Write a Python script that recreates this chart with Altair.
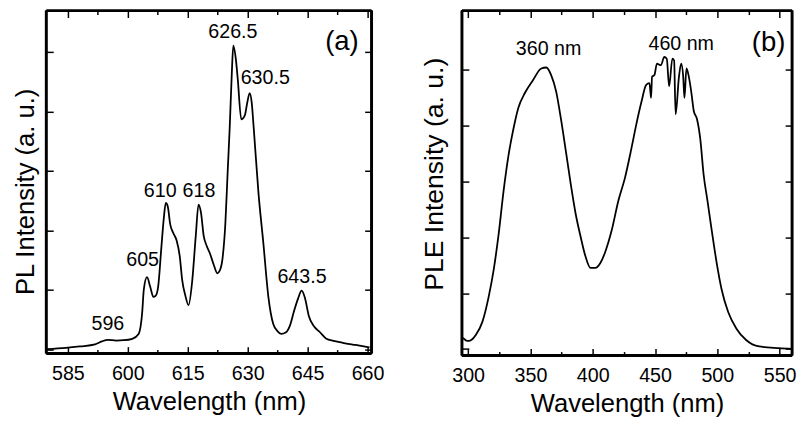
import altair as alt
import pandas as pd

FONT = "Liberation Sans"

pl_wavelength = [579.7, 584.5, 588.0, 591.8, 593.5, 595.0, 597.1, 599.0, 601.1, 602.7,
                 603.6, 604.0, 604.8, 605.6, 606.4, 607.0, 607.6, 608.4, 609.0, 609.5,
                 610.0, 610.6, 611.4, 612.2, 613.0, 613.6, 614.4, 615.2, 616.1, 617.0,
                 617.7, 618.3, 619.0, 619.7, 620.6, 621.5, 622.4, 623.0, 623.7, 624.4,
                 625.0, 625.5, 626.0, 626.4, 627.0, 627.5, 628.4, 629.3, 629.9, 630.5,
                 631.0, 631.5, 632.7, 633.9, 635.2, 636.4, 637.5, 638.4, 639.6, 640.6,
                 641.6, 642.6, 643.5, 644.3, 645.3, 646.5, 648.1, 649.7, 651.5, 653.8,
                 657.0, 660.5]
pl_intensity = [0, 20, 45, 79, 130, 157, 145, 150, 174, 256,
                620, 1000, 1210, 1050, 879, 900, 1055, 1716, 2200, 2460,
                2400, 2103, 1950, 1830, 1560, 1165, 900, 740, 1137, 1900,
                2433, 2300, 1900, 1744, 1600, 1420, 1276, 1320, 1524, 2100,
                3000, 3728, 4600, 5105, 4900, 4554, 3865, 3937, 4150, 4306,
                4150, 3728, 2625, 1798, 868, 422, 300, 256, 284, 400,
                641, 850, 985, 870, 559, 393, 284, 174, 140, 107,
                70, 30]
pl_peak_text = ["596", "605", "610", "618", "626.5", "630.5", "643.5"]
pl_peak_x = [595.0, 603.7, 608.1, 617.8, 626.3, 634.4, 643.6]
pl_peak_y = [421, 1496, 2653, 2653, 5331, 4554, 1215]
pl_tag = ["(a)"]
pl_tag_x = [653.6]
pl_tag_y = [5166]

pl_x_major = [585, 600, 615, 630, 645, 660]
pl_x_minor = [592.5, 607.5, 622.5, 637.5, 652.5]

ple_wavelength = [295.5, 296.8, 298.5, 300.8, 303.5, 306.1, 311.4, 316.6, 320.5, 324.5,
                  328.4, 332.4, 336.3, 340.3, 345.5, 352.1, 358.7, 362.7, 366.6, 370.6,
                  374.5, 378.5, 382.4, 386.3, 390.3, 394.2, 398.2, 402.1, 406.1, 410.0,
                  415.2, 420.5, 425.8, 431.0, 435.0, 438.9, 442.9, 445.5, 446.8, 447.6,
                  449.5, 451.5, 454.7, 457.4, 459.4, 461.3, 463.9, 465.3, 466.5, 469.2,
                  471.0, 472.6, 473.6, 475.2, 477.1, 479.2, 481.1, 483.7, 486.3, 489.0,
                  492.1, 495.5, 499.5, 503.4, 508.7, 515.2, 523.1, 533.6, 549.4, 560.0]
ple_intensity = [200, 181, 150, 146, 180, 251, 487, 954, 1424, 2068,
                 2830, 3475, 3942, 4323, 4587, 4821, 5027, 5044, 4909, 4617,
                 4118, 3532, 2947, 2420, 2009, 1657, 1453, 1453, 1541, 1740,
                 2127, 2654, 3063, 3591, 4030, 4411, 4733, 4763, 4499, 4880,
                 4909, 5114, 5085, 5232, 5202, 4705, 5202, 5173, 4206, 4880,
                 5114, 4880, 4499, 5027, 4880, 4587, 4265, 4118, 3766, 3123,
                 2654, 2127, 1541, 1072, 663, 369, 163, 47, 18, 5]
ple_peak_text = ["360 nm", "460 nm"]
ple_peak_x = [364.5, 471.0]
ple_peak_y = [5378, 5466]
ple_tag = ["(b)"]
ple_tag_x = [541.1]
ple_tag_y = [5483]

ple_x_major = [300, 350, 400, 450, 500, 550]
ple_x_minor = [325, 375, 425, 475, 525]

y_ticks = [0, 1000, 2000, 3000, 4000, 5000]

pl_x_range = [579.6, 661.0]
pl_y_range = [-74, 5695]
ple_x_range = [295.0, 560.0]
ple_y_range = [-115, 6063]


def axis(orient, values, size, labels=False, title=None, **kw):
    return alt.Axis(orient=orient, values=values, tickSize=size, offset=-size,
                    domain=False, grid=False, labels=labels, title=title,
                    labelFlush=False, labelOverlap=False,
                    minExtent=0, maxExtent=400, **kw)


def panel(wl, inten, ptxt, px, py, tag, tx, ty, xdom, ydom, xmaj, xmin,
          ytitle, w, h, ytp, ytitle_y, ytfs):
    df = pd.DataFrame({"wl": wl, "val": inten})
    lab = pd.DataFrame({"t": ptxt, "x": px, "y": py})
    tg = pd.DataFrame({"t": tag, "x": tx, "y": ty})
    edges = pd.DataFrame({"x1": [xdom[0], xdom[0], xdom[0], xdom[1]],
                          "x2": [xdom[1], xdom[1], xdom[0], xdom[1]],
                          "y1": [ydom[0], ydom[1], ydom[0], ydom[0]],
                          "y2": [ydom[0], ydom[1], ydom[1], ydom[1]]})
    xs = alt.Scale(domain=xdom, nice=False, zero=False)
    ys = alt.Scale(domain=ydom, nice=False, zero=False)
    base = alt.Chart(df)
    main = base.mark_line(color="black", strokeWidth=1.8, interpolate="monotone").encode(
        x=alt.X("wl:Q", scale=xs,
                axis=axis("bottom", xmaj, 7, labels=True, title="Wavelength (nm)",
                          labelPadding=10, titlePadding=6)),
        y=alt.Y("val:Q", scale=ys,
                axis=axis("left", y_ticks, 7, title=ytitle, titlePadding=ytp,
                          titleY=ytitle_y, titleFontSize=ytfs)),
    )
    minor_b = base.mark_line(opacity=0).encode(
        x=alt.X("wl:Q", scale=xs, axis=axis("bottom", xmin, 4)),
        y=alt.Y("val:Q", scale=ys, axis=axis("right", y_ticks, 7)),
    )
    major_t = base.mark_line(opacity=0).encode(
        x=alt.X("wl:Q", scale=xs, axis=axis("top", xmaj, 7)),
        y=alt.Y("val:Q", scale=ys, axis=None),
    )
    minor_t = base.mark_line(opacity=0).encode(
        x=alt.X("wl:Q", scale=xs, axis=axis("top", xmin, 4)),
        y=alt.Y("val:Q", scale=ys, axis=None),
    )
    frame = alt.Chart(edges).mark_rule(color="black", strokeWidth=3).encode(
        x=alt.X("x1:Q", scale=xs, axis=None),
        x2="x2:Q",
        y=alt.Y("y1:Q", scale=ys, axis=None),
        y2="y2:Q",
    )
    labels = alt.Chart(lab).mark_text(font=FONT, fontSize=20, color="black",
                                      baseline="middle", align="center").encode(
        x=alt.X("x:Q", scale=xs, axis=None),
        y=alt.Y("y:Q", scale=ys, axis=None),
        text="t:N",
    )
    tags = alt.Chart(tg).mark_text(font=FONT, fontSize=28, color="black",
                                   baseline="middle", align="center").encode(
        x=alt.X("x:Q", scale=xs, axis=None),
        y=alt.Y("y:Q", scale=ys, axis=None),
        text="t:N",
    )
    return (alt.layer(main, minor_b, major_t, minor_t, labels, tags, frame)
            .resolve_scale(x="shared", y="shared")
            .resolve_axis(x="independent", y="independent")
            .properties(width=w, height=h))


pa = panel(pl_wavelength, pl_intensity, pl_peak_text, pl_peak_x, pl_peak_y,
           pl_tag, pl_tag_x, pl_tag_y, pl_x_range, pl_y_range,
           pl_x_major, pl_x_minor, "PL Intensity (a. u.)", 331, 349, 7, 184, 26)
pb = panel(ple_wavelength, ple_intensity, ple_peak_text, ple_peak_x, ple_peak_y,
           ple_tag, ple_tag_x, ple_tag_y, ple_x_range, ple_y_range,
           ple_x_major, ple_x_minor, "PLE Intensity (a. u.)", 336, 351, 13, 166, 27)

chart = (alt.hconcat(pa, pb, spacing=35)
         .properties(padding={"left": 4, "top": -4, "right": 0, "bottom": 0},
                     background="white")
         .configure_view(stroke="black", strokeWidth=1.5)
         .configure_axis(labelFont=FONT, titleFont=FONT, labelFontSize=20,
                         titleFontSize=26, titleFontWeight="normal",
                         labelColor="black", titleColor="black",
                         tickColor="black", tickWidth=1.5))

chart.save("out.html", embed_options={"renderer": "svg", "actions": False})
